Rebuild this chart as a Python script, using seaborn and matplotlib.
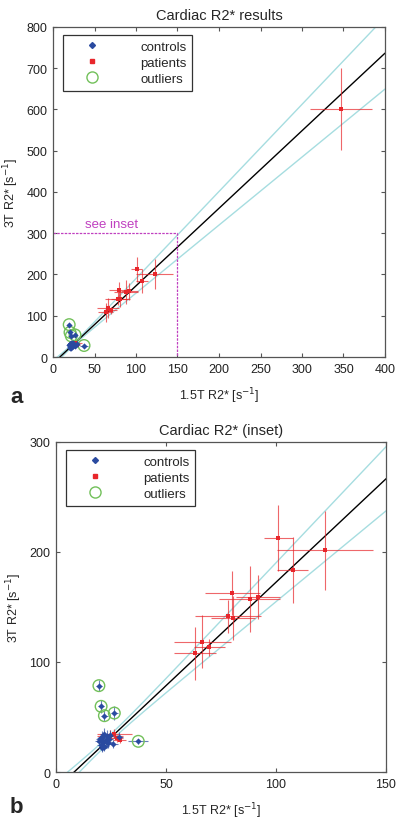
import numpy as np
import pandas as pd
import matplotlib
matplotlib.use("Agg")
import matplotlib.pyplot as plt
import seaborn as sns
from matplotlib.lines import Line2D

# controls (first five are the outliers)
controls_x = [19.5, 20.5, 22.0, 26.5, 37.4, 19.5, 20.0, 20.5, 21.0, 21.5, 22.0,
              22.5, 23.0, 23.5, 24.0, 21.0, 22.0, 20.5, 23.0, 26.0, 24.5, 28.5, 21.8]
controls_y = [78.5, 59.7, 51.2, 53.6, 27.9, 28.0, 30.0, 25.0, 32.0, 27.0, 24.0,
              29.0, 33.0, 26.0, 30.0, 22.0, 35.0, 31.0, 27.0, 25.5, 34.0, 32.0, 22.7]
controls_xerr = [1.5, 1.5, 1.5, 1.5, 4.5, 2, 2, 2, 2, 3, 2, 2, 3, 2, 2, 2, 2, 2, 3, 2, 2, 2, 2]
controls_yerr = [5, 6, 5, 6, 2, 4, 4, 4, 5, 4, 4, 4, 5, 4, 4, 4, 5, 4, 4, 4, 4, 4, 4]
n_outliers = 5

patients_x = [24.5, 26.5, 27.5, 29.0, 63.3, 66.5, 69.7, 78.0, 80.3, 80.0, 88.0,
              92.0, 101.0, 107.6, 122.3, 347.0]
patients_y = [33.0, 35.0, 30.5, 29.5, 107.9, 118.5, 113.3, 141.5, 140.3, 163.0, 157.3,
              159.4, 212.7, 184.0, 201.5, 601.0]
patients_xerr = [6, 8, 3, 3, 9.5, 13, 7, 15, 10, 12.5, 14, 10, 6.5, 7, 21.7, 37]
patients_yerr = [5, 4, 3, 3, 24, 24, 8, 15, 20, 20, 30, 20, 30, 30, 36, 100]

# regression line and confidence band parameters
fit_slope = 1.88
fit_intercept = -15.5
band_a = 9.0
band_b = 0.0538
band_center = 25.0

RED = "#e8262b"
BLUE = "#2a4aa0"
GREEN = "#72c05a"
CYAN = "#a6dde0"
MAGENTA = "#c040c0"

sns.set_style("ticks")
plt.rcParams["font.family"] = ["Liberation Sans", "DejaVu Sans"]

fig = plt.figure(figsize=(4, 8.2), dpi=100)
ax1 = fig.add_axes([0.1325, 0.5634, 0.83, 0.4025])
ax2 = fig.add_axes([0.14, 0.0573, 0.825, 0.4025])

xx = np.linspace(0, 400, 400)
fit = fit_slope * xx + fit_intercept
half = np.sqrt(band_a + band_b * (xx - band_center) ** 2)
lines = pd.DataFrame({"x": xx, "fit": fit, "upper": fit + half, "lower": fit - half})


def draw(ax, xmax, ymax, xticks, yticks, title):
    sns.lineplot(data=lines, x="x", y="upper", color=CYAN, lw=1, ax=ax)
    sns.lineplot(data=lines, x="x", y="lower", color=CYAN, lw=1, ax=ax)
    sns.lineplot(data=lines, x="x", y="fit", color="black", lw=1, ax=ax)

    ax.errorbar(patients_x, patients_y, xerr=patients_xerr, yerr=patients_yerr,
                fmt="none", ecolor=RED, elinewidth=0.8, alpha=0.7, zorder=3)
    ax.errorbar(controls_x, controls_y, xerr=controls_xerr, yerr=controls_yerr,
                fmt="none", ecolor=BLUE, elinewidth=0.8, alpha=0.7, zorder=3)
    sns.scatterplot(x=controls_x[:n_outliers], y=controls_y[:n_outliers], marker="o",
                    s=70, facecolor="none", edgecolor=GREEN, linewidth=1, ax=ax, zorder=4)
    sns.scatterplot(x=patients_x, y=patients_y, marker="s", s=12, color=RED,
                    edgecolor=RED, linewidth=0, ax=ax, zorder=5)
    sns.scatterplot(x=controls_x, y=controls_y, marker="D", s=10, color=BLUE,
                    edgecolor=BLUE, linewidth=0, ax=ax, zorder=5)

    ax.set_xlim(0, xmax)
    ax.set_ylim(0, ymax)
    ax.set_xticks(xticks)
    ax.set_yticks(yticks)
    ax.tick_params(direction="in", top=True, right=True, labelsize=9, length=3,
                   color="#555555", labelcolor="#222222", pad=4)
    for sp in ax.spines.values():
        sp.set_visible(True)
        sp.set_color("#555555")
        sp.set_linewidth(0.9)
    ax.set_title(title, fontsize=10.5, pad=6)
    ax.set_xlabel("1.5T R2* [s$^{-1}$]", fontsize=9, labelpad=8)
    ax.set_ylabel("3T R2* [s$^{-1}$]", fontsize=9, labelpad=4)

    handles = [
        Line2D([], [], ls="none", marker="D", ms=3, color=BLUE),
        Line2D([], [], ls="none", marker="s", ms=3, color=RED),
        Line2D([], [], ls="none", marker="o", ms=8, mfc="none", mec=GREEN),
    ]
    leg = ax.legend(handles, ["controls", "patients", "outliers"], loc="upper left",
                    bbox_to_anchor=(0.03, 0.977), borderaxespad=0, fontsize=9.5,
                    frameon=True, fancybox=False, edgecolor="black",
                    handlelength=3.5, handletextpad=1.9, labelspacing=0.3,
                    borderpad=0.45)
    leg.get_frame().set_linewidth(0.9)


draw(ax1, 400, 800, range(0, 401, 50), range(0, 801, 100), "Cardiac R2* results")
draw(ax2, 150, 300, [0, 50, 100, 150], [0, 100, 200, 300], "Cardiac R2* (inset)")

# inset marker on the overview panel
ax1.plot([0, 150, 150], [300, 300, 0], color=MAGENTA, lw=0.9, ls=(0, (2, 1)))
ax1.text(38, 308, "see inset", color=MAGENTA, fontsize=9.5, va="bottom")

fig.text(0.025, 0.515, "a", fontsize=16, fontweight="bold", va="center")
fig.text(0.025, 0.015, "b", fontsize=16, fontweight="bold", va="center")

fig.savefig("out.png", dpi=100)
